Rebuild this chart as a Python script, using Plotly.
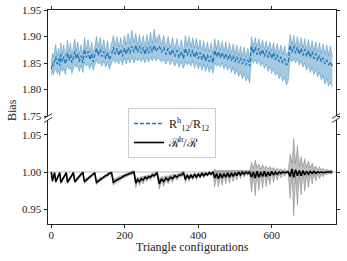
import plotly.graph_objects as go

# x positions (triangle configuration index), grouped by block
x = [0, 3, 6, 9,
     12, 16, 20, 23,
     26, 30, 34, 38, 41,
     44, 48, 52, 56, 60,
     64, 68, 72, 76, 81, 86,
     90, 95, 100, 105, 110, 114, 118,
     123, 128, 133, 138, 143, 148, 153, 158, 164,
     169, 174, 179, 184, 189, 194, 199, 204, 209, 214, 219, 225,
     230, 235, 240, 245, 250, 255, 260, 265, 270, 275, 280, 285, 288,
     294, 300, 306, 312, 318, 324, 330, 336, 342, 348, 354, 360,
     365, 370, 375, 380, 385, 390, 395, 400, 405, 410, 415, 420, 425, 430, 435, 440,
     445, 450, 455, 460, 465, 470, 475, 480, 485, 490, 495, 500, 505, 510, 515, 520, 525, 530, 535, 540,
     545, 550, 555, 560, 565, 570, 575, 580, 585, 590, 595, 600, 605, 610, 615, 620, 625, 630, 635, 640, 645,
     650, 655, 660, 665, 670, 675, 680, 685, 690, 695, 700, 705, 710, 715, 720, 725, 730, 735, 740, 745, 750, 755, 760, 765]

# Top panel: R^h_12 / R_12 mean and band
top_mean = [1.838, 1.850, 1.845, 1.852,
            1.862, 1.848, 1.858, 1.845,
            1.866, 1.852, 1.862, 1.848, 1.856,
            1.870, 1.855, 1.866, 1.850, 1.860,
            1.872, 1.858, 1.868, 1.852, 1.864, 1.850,
            1.876, 1.860, 1.872, 1.856, 1.868, 1.852, 1.862,
            1.878, 1.864, 1.876, 1.862, 1.872, 1.858, 1.870, 1.856, 1.866,
            1.880, 1.866, 1.878, 1.864, 1.876, 1.862, 1.878, 1.866, 1.880, 1.868, 1.882, 1.870,
            1.884, 1.870, 1.882, 1.868, 1.880, 1.866, 1.880, 1.868, 1.882, 1.870, 1.884, 1.872, 1.876,
            1.882, 1.870, 1.880, 1.866, 1.878, 1.864, 1.876, 1.862, 1.874, 1.860, 1.872, 1.858,
            1.878, 1.864, 1.876, 1.862, 1.874, 1.860, 1.872, 1.858, 1.870, 1.856, 1.868, 1.854, 1.866, 1.852, 1.864, 1.850,
            1.874, 1.862, 1.872, 1.860, 1.870, 1.858, 1.868, 1.856, 1.866, 1.854, 1.864, 1.852, 1.862, 1.850, 1.860, 1.848, 1.858, 1.846, 1.856, 1.844,
            1.882, 1.868, 1.880, 1.866, 1.878, 1.864, 1.876, 1.862, 1.874, 1.860, 1.872, 1.858, 1.870, 1.856, 1.866, 1.852, 1.862, 1.850, 1.858, 1.846, 1.850,
            1.884, 1.870, 1.882, 1.868, 1.880, 1.866, 1.878, 1.864, 1.876, 1.862, 1.874, 1.860, 1.872, 1.858, 1.868, 1.854, 1.864, 1.852, 1.860, 1.848, 1.856, 1.846, 1.852, 1.844]

top_hi = [1.850, 1.868, 1.862, 1.872,
          1.885, 1.862, 1.878, 1.858,
          1.888, 1.866, 1.884, 1.862, 1.876,
          1.893, 1.870, 1.888, 1.864, 1.882,
          1.895, 1.872, 1.890, 1.866, 1.885, 1.862,
          1.898, 1.876, 1.894, 1.870, 1.890, 1.866, 1.884,
          1.900, 1.880, 1.898, 1.876, 1.894, 1.872, 1.892, 1.868, 1.888,
          1.902, 1.882, 1.900, 1.880, 1.898, 1.878, 1.902, 1.884, 1.906, 1.886, 1.912, 1.888,
          1.906, 1.884, 1.904, 1.882, 1.902, 1.880, 1.904, 1.884, 1.908, 1.886, 1.914, 1.890, 1.898,
          1.904, 1.884, 1.902, 1.880, 1.900, 1.878, 1.898, 1.876, 1.896, 1.874, 1.894, 1.872,
          1.902, 1.882, 1.900, 1.880, 1.898, 1.878, 1.896, 1.876, 1.894, 1.874, 1.892, 1.872, 1.890, 1.870, 1.888, 1.868,
          1.896, 1.876, 1.894, 1.874, 1.892, 1.872, 1.890, 1.870, 1.888, 1.868, 1.886, 1.866, 1.884, 1.864, 1.882, 1.862, 1.880, 1.860, 1.878, 1.858,
          1.900, 1.882, 1.898, 1.880, 1.896, 1.878, 1.894, 1.876, 1.892, 1.874, 1.890, 1.872, 1.888, 1.870, 1.886, 1.868, 1.884, 1.866, 1.882, 1.864, 1.872,
          1.904, 1.884, 1.902, 1.882, 1.900, 1.880, 1.898, 1.878, 1.896, 1.876, 1.894, 1.874, 1.892, 1.872, 1.890, 1.870, 1.888, 1.868, 1.886, 1.866, 1.884, 1.864, 1.882, 1.862]

top_lo = [1.825, 1.836, 1.828, 1.837,
          1.838, 1.830, 1.836, 1.826,
          1.842, 1.834, 1.840, 1.828, 1.838,
          1.846, 1.838, 1.842, 1.830, 1.842,
          1.848, 1.842, 1.844, 1.834, 1.846, 1.832,
          1.852, 1.844, 1.848, 1.838, 1.850, 1.836, 1.844,
          1.856, 1.848, 1.852, 1.844, 1.854, 1.842, 1.852, 1.838, 1.848,
          1.858, 1.850, 1.856, 1.848, 1.858, 1.846, 1.860, 1.848, 1.860, 1.850, 1.862, 1.850,
          1.860, 1.854, 1.858, 1.852, 1.860, 1.850, 1.860, 1.852, 1.860, 1.854, 1.862, 1.854, 1.858,
          1.858, 1.852, 1.856, 1.848, 1.858, 1.846, 1.856, 1.844, 1.854, 1.842, 1.852, 1.840,
          1.854, 1.846, 1.852, 1.844, 1.854, 1.840, 1.852, 1.838, 1.850, 1.836, 1.848, 1.834, 1.846, 1.832, 1.844, 1.830,
          1.850, 1.844, 1.848, 1.842, 1.850, 1.838, 1.848, 1.836, 1.846, 1.832, 1.842, 1.828, 1.838, 1.824, 1.834, 1.820, 1.830, 1.816, 1.824, 1.812,
          1.858, 1.850, 1.856, 1.848, 1.856, 1.844, 1.852, 1.840, 1.848, 1.834, 1.844, 1.830, 1.840, 1.826, 1.834, 1.820, 1.828, 1.816, 1.822, 1.808, 1.816,
          1.860, 1.852, 1.858, 1.850, 1.858, 1.846, 1.854, 1.842, 1.850, 1.836, 1.846, 1.832, 1.842, 1.828, 1.838, 1.824, 1.832, 1.818, 1.826, 1.810, 1.820, 1.806, 1.814, 1.804]

# Bottom panel: calR^h / calR mean and half-width of band
bot_mean = [1.000, 0.988, 0.994, 0.999,
            0.987, 0.991, 0.995, 0.999,
            0.986, 0.990, 0.993, 0.996, 0.999,
            0.986, 0.989, 0.992, 0.996, 0.999,
            0.987, 0.989, 0.992, 0.994, 0.997, 0.999,
            0.987, 0.989, 0.991, 0.993, 0.995, 0.997, 0.999,
            0.986, 0.988, 0.990, 0.991, 0.993, 0.995, 0.996, 0.998, 0.999,
            0.986, 0.988, 0.990, 0.991, 0.992, 0.994, 0.995, 0.996, 0.997, 0.998, 0.999, 1.000,
            0.985, 0.990, 0.987, 0.991, 0.989, 0.993, 0.991, 0.994, 0.993, 0.996, 0.995, 0.998, 0.999,
            0.984, 0.991, 0.987, 0.992, 0.989, 0.993, 0.991, 0.995, 0.993, 0.996, 0.996, 0.999,
            0.990, 0.996, 0.991, 0.996, 0.992, 0.997, 0.993, 0.997, 0.994, 0.998, 0.995, 0.998, 0.996, 0.999, 0.997, 1.000,
            0.992, 0.998, 0.991, 0.998, 0.992, 0.998, 0.993, 0.999, 0.993, 0.999, 0.994, 0.999, 0.995, 1.000, 0.996, 1.000, 0.997, 1.000, 0.998, 1.000,
            0.993, 1.000, 0.992, 1.001, 0.993, 1.000, 0.994, 1.001, 0.994, 1.000, 0.995, 1.001, 0.996, 1.000, 0.997, 1.000, 0.998, 1.000, 0.999, 1.000, 1.000,
            0.994, 1.004, 0.993, 1.003, 0.995, 1.002, 0.995, 1.002, 0.996, 1.001, 0.997, 1.001, 0.998, 1.001, 0.998, 1.000, 0.999, 1.000, 0.999, 1.000, 1.000, 1.000, 1.000, 1.000]

bot_err = [0.001, 0.002, 0.002, 0.001,
           0.002, 0.002, 0.002, 0.001,
           0.002, 0.002, 0.002, 0.002, 0.001,
           0.002, 0.002, 0.002, 0.002, 0.001,
           0.002, 0.002, 0.002, 0.002, 0.002, 0.001,
           0.003, 0.002, 0.002, 0.002, 0.002, 0.002, 0.001,
           0.003, 0.002, 0.003, 0.002, 0.002, 0.002, 0.002, 0.002, 0.001,
           0.004, 0.003, 0.003, 0.003, 0.003, 0.002, 0.003, 0.002, 0.002, 0.002, 0.002, 0.002,
           0.006, 0.003, 0.005, 0.003, 0.005, 0.002, 0.004, 0.002, 0.004, 0.002, 0.003, 0.002, 0.002,
           0.007, 0.003, 0.006, 0.003, 0.005, 0.003, 0.005, 0.002, 0.004, 0.002, 0.003, 0.002,
           0.004, 0.002, 0.004, 0.002, 0.003, 0.002, 0.003, 0.002, 0.003, 0.002, 0.003, 0.002, 0.002, 0.002, 0.002, 0.002,
           0.012, 0.004, 0.011, 0.004, 0.010, 0.003, 0.009, 0.003, 0.008, 0.003, 0.007, 0.003, 0.006, 0.002, 0.005, 0.002, 0.004, 0.002, 0.003, 0.002,
           0.020, 0.005, 0.024, 0.005, 0.018, 0.004, 0.016, 0.004, 0.014, 0.004, 0.012, 0.003, 0.010, 0.003, 0.008, 0.003, 0.006, 0.002, 0.005, 0.002, 0.002,
           0.030, 0.008, 0.052, 0.008, 0.040, 0.006, 0.026, 0.005, 0.022, 0.005, 0.018, 0.004, 0.014, 0.004, 0.010, 0.003, 0.008, 0.003, 0.006, 0.002, 0.004, 0.002, 0.003, 0.002]

top_ticks = [1.75, 1.80, 1.85, 1.90, 1.95]
bot_ticks = [0.95, 1.00, 1.05]
x_ticks = [0, 200, 400, 600]

bot_hi = [m + e for m, e in zip(bot_mean, bot_err)]
bot_lo = [m - e for m, e in zip(bot_mean, bot_err)]

BLUE = "#1f77b4"
FONT = "Liberation Serif"

fig = go.Figure()

# top band
fig.add_trace(go.Scatter(x=x, y=top_lo, mode="lines", line=dict(color="rgba(31,119,180,0.6)", width=0.6),
                         xaxis="x2", yaxis="y2", showlegend=False, hoverinfo="skip"))
fig.add_trace(go.Scatter(x=x, y=top_hi, mode="lines", line=dict(color="rgba(31,119,180,0.6)", width=0.6),
                         fill="tonexty", fillcolor="rgba(31,119,180,0.4)",
                         xaxis="x2", yaxis="y2", showlegend=False, hoverinfo="skip"))
fig.add_trace(go.Scatter(x=x, y=top_mean, mode="lines", line=dict(color=BLUE, width=1.3, dash="4px,2px"),
                         xaxis="x2", yaxis="y2", name="R<sup>h</sup><sub>12</sub>/R<sub>12</sub>"))

# bottom band
fig.add_trace(go.Scatter(x=x, y=bot_lo, mode="lines", line=dict(color="rgba(0,0,0,0.35)", width=0.6),
                         xaxis="x", yaxis="y", showlegend=False, hoverinfo="skip"))
fig.add_trace(go.Scatter(x=x, y=bot_hi, mode="lines", line=dict(color="rgba(0,0,0,0.35)", width=0.6),
                         fill="tonexty", fillcolor="rgba(0,0,0,0.25)",
                         xaxis="x", yaxis="y", showlegend=False, hoverinfo="skip"))
fig.add_trace(go.Scatter(x=x, y=bot_mean, mode="lines", line=dict(color="black", width=1.6),
                         xaxis="x", yaxis="y", name="\u211b<sup>h</sup>/\u211b"))

XR = [-9, 775]
L, R, T, B = 48, 11, 10, 37
W, H = 347, 261
PW, PH = W - L - R, H - T - B
y_top_bottom_px = 116
y_bot_top_px = 120

def py(p):
    return (H - B - p) / PH

def px(p):
    return (p - L) / PW

axis_common = dict(showline=True, linecolor="#222", linewidth=0.9, ticks="outside", ticklen=3.5,
                   tickwidth=0.8, tickcolor="#222", showgrid=False, zeroline=False,
                   tickfont=dict(family=FONT, size=11, color="#222"))

fig.update_layout(
    width=W, height=H,
    margin=dict(l=L, r=R, t=T, b=B, autoexpand=False),
    paper_bgcolor="white", plot_bgcolor="white",
    font=dict(family=FONT, size=11, color="#222"),
    xaxis=dict(range=XR, domain=[0, 1], anchor="y", tickvals=x_ticks, ticklabelstandoff=-3, **axis_common),
    yaxis=dict(range=[0.93, 1.07], domain=[0, py(y_bot_top_px)], anchor="x", tickvals=bot_ticks,
               tickformat=".2f", mirror="ticks", **axis_common),
    xaxis2=dict(range=XR, domain=[0, 1], anchor="y2", side="top", tickvals=x_ticks,
                showticklabels=False, **axis_common),
    yaxis2=dict(range=[1.75, 1.95], domain=[py(y_top_bottom_px), 1], anchor="x2", tickvals=top_ticks,
                tickformat=".2f", mirror="ticks", **axis_common),
    showlegend=True,
    legend=dict(x=px(128), y=py(108), xanchor="left", yanchor="top", traceorder="normal",
                bgcolor="rgba(255,255,255,0.9)", bordercolor="#ccc", borderwidth=1,
                font=dict(family=FONT, size=12, color="#222"),
                tracegroupgap=0, itemwidth=30),
)

# reference line at 1
fig.add_shape(type="line", xref="x", yref="y", x0=XR[0], x1=XR[1], y0=1.0, y1=1.0,
              line=dict(color="#bbb", width=1), layer="below")

# axis break marks
for xp in (L, W - R):
    for yp in (y_top_bottom_px, y_bot_top_px):
        fig.add_shape(type="line", xref="paper", yref="paper",
                      x0=px(xp - 4), y0=py(yp + 2.5), x1=px(xp + 4), y1=py(yp - 2.5),
                      line=dict(color="#222", width=0.9))

fig.add_annotation(text="Triangle configurations", xref="paper", yref="paper",
                   x=px(192), y=py(247), xanchor="center", yanchor="middle", showarrow=False,
                   font=dict(family=FONT, size=12, color="#222"))
fig.add_annotation(text="Bias", xref="paper", yref="paper", x=px(12), y=py(110),
                   xanchor="center", yanchor="middle",
                   textangle=-90, showarrow=False,
                   font=dict(family=FONT, size=12, color="#222"))

fig.write_html("out.html", config={"displayModeBar": False},
               post_script="document.body.style.margin='0';")
